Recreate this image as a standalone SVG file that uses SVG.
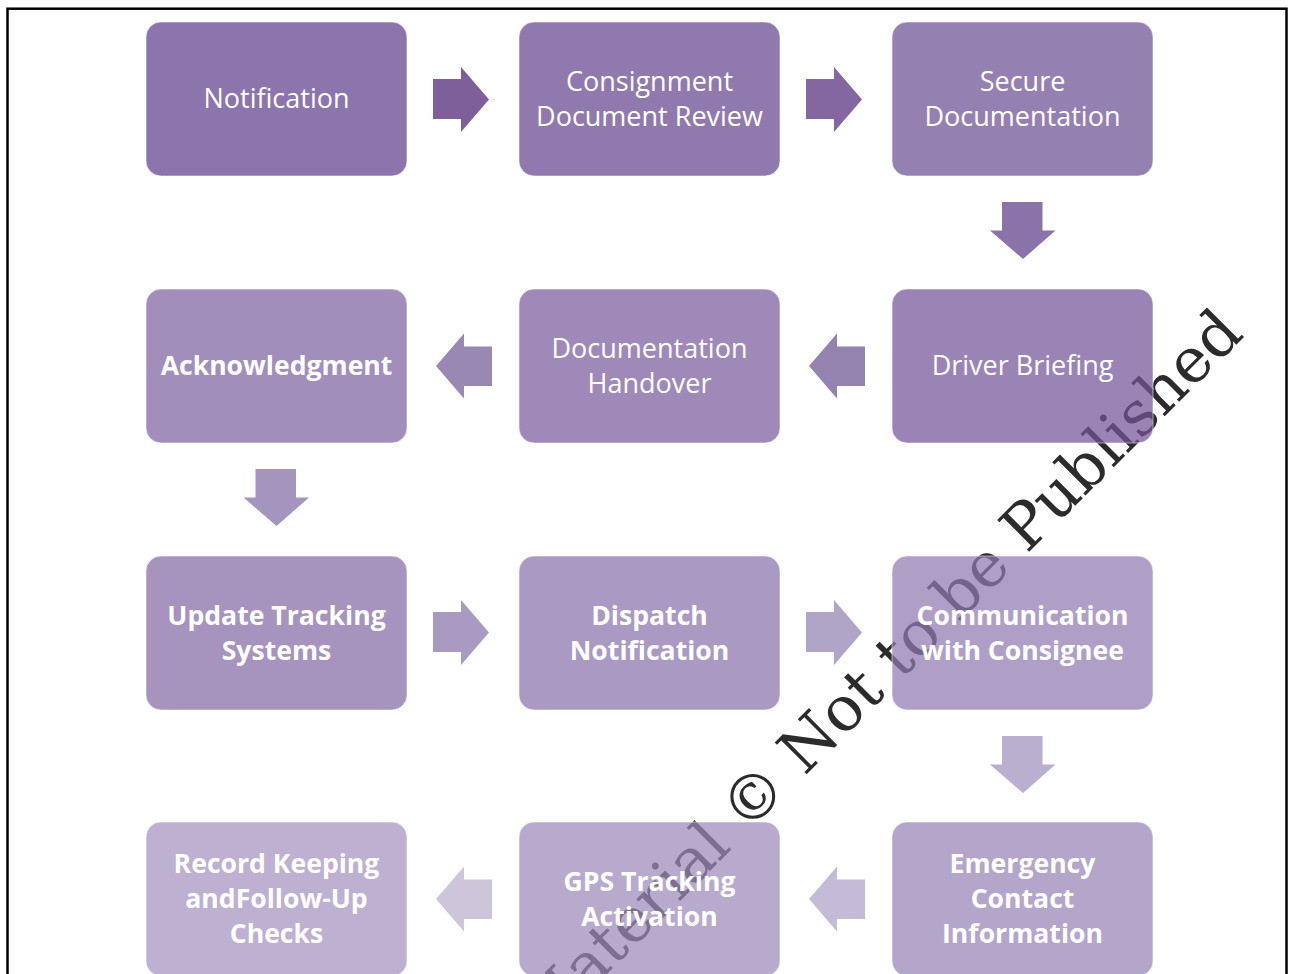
<svg xmlns="http://www.w3.org/2000/svg" width="1295" height="974" viewBox="0 0 1295 974">
  <style>
    .box { stroke: #ffffff; stroke-opacity: 0.55; stroke-width: 1; fill-opacity: 0.72; }
    .lbl { font-family: "Open Sans", "Noto Sans", sans-serif; font-size: 27px; fill: #ffffff; text-anchor: middle; }
    .b { font-weight: 700; font-size: 26.6px; }
    .mark { font-family: "DejaVu Serif", "Liberation Serif", serif; font-size: 62px; fill: #2b2b2b; }
  </style>
  <defs>
    <!-- arrow shapes, drawn at the origin and placed by translate -->
    <path id="arR" d="M0,12 H28 V0 L56,32.5 L28,65 V52 H0 Z"/>
    <path id="arL" d="M56,13 H28 V0 L0,32.5 L28,65 V52.5 H56 Z"/>
    <path id="arD" d="M12,0 H52.5 V28.5 H65.5 L33,57 L0,28.5 H12 Z"/>
  </defs>

  <rect x="0" y="0" width="1295" height="974" fill="#ffffff"/>
  <rect x="7.5" y="8.7" width="1279" height="1000" fill="none" stroke="#000000" stroke-width="2.5"/>

  <!-- watermark sits under the translucent boxes -->
  <text class="mark" transform="translate(543,1038) rotate(-45)">Material © Not to be Published</text>

  <g id="connectors">
    <use href="#arR" x="433" y="67" fill="#7e5f9a"/>
    <use href="#arR" x="806" y="67" fill="#8467a1"/>
    <use href="#arD" x="990" y="202" fill="#8a73a9"/>
    <use href="#arL" x="809" y="333.5" fill="#9482af"/>
    <use href="#arL" x="436" y="333.5" fill="#9988b4"/>
    <use href="#arD" x="243.5" y="469" fill="#a494be"/>
    <use href="#arR" x="433" y="600" fill="#a99ac2"/>
    <use href="#arR" x="806" y="600" fill="#b1a5c7"/>
    <use href="#arD" x="990" y="736" fill="#baafce"/>
    <use href="#arL" x="809" y="866.5" fill="#c4bbd6"/>
    <use href="#arL" x="436" y="866.5" fill="#cdc6da"/>
  </g>

  <g id="n1">
    <rect class="box" x="146" y="22" width="261" height="154" rx="15" fill="#5f3e8c"/>
    <text class="lbl" x="276.5" y="108">Notification</text>
  </g>
  <g id="n2">
    <rect class="box" x="519" y="22" width="261" height="154" rx="15" fill="#65458e"/>
    <text class="lbl" x="649.5" y="91">Consignment</text>
    <text class="lbl" x="649.5" y="126">Document Review</text>
  </g>
  <g id="n3">
    <rect class="box" x="892" y="22" width="261" height="154" rx="15" fill="#6c4f94"/>
    <text class="lbl" x="1022.5" y="91">Secure</text>
    <text class="lbl" x="1022.5" y="126">Documentation</text>
  </g>
  <g id="n4">
    <rect class="box" x="892" y="289" width="261" height="154" rx="15" fill="#735498"/>
    <text class="lbl" x="1022.5" y="375">Driver Briefing</text>
  </g>
  <g id="n5">
    <rect class="box" x="519" y="289" width="261" height="154" rx="15" fill="#785b9c"/>
    <text class="lbl" x="649.5" y="358">Documentation</text>
    <text class="lbl" x="649.5" y="393">Handover</text>
  </g>
  <g id="n6">
    <rect class="box" x="146" y="289" width="261" height="154" rx="15" fill="#7e62a0"/>
    <text class="lbl b" x="276.5" y="375">Acknowledgment</text>
  </g>
  <g id="n7">
    <rect class="box" x="146" y="556" width="261" height="154" rx="15" fill="#8369a5"/>
    <text class="lbl b" x="276.5" y="625">Update Tracking</text>
    <text class="lbl b" x="276.5" y="660">Systems</text>
  </g>
  <g id="n8">
    <rect class="box" x="519" y="556" width="261" height="154" rx="15" fill="#8971aa"/>
    <text class="lbl b" x="649.5" y="625">Dispatch</text>
    <text class="lbl b" x="649.5" y="660">Notification</text>
  </g>
  <g id="n9">
    <rect class="box" x="892" y="556" width="261" height="154" rx="15" fill="#907ab0"/>
    <text class="lbl b" x="1022.5" y="625">Communication</text>
    <text class="lbl b" x="1022.5" y="660">with Consignee</text>
  </g>
  <g id="n10">
    <rect class="box" x="892" y="822" width="261" height="154" rx="15" fill="#9782b5"/>
    <text class="lbl b" x="1022.5" y="872.5">Emergency</text>
    <text class="lbl b" x="1022.5" y="907.5">Contact</text>
    <text class="lbl b" x="1022.5" y="943">Information</text>
  </g>
  <g id="n11">
    <rect class="box" x="519" y="822" width="261" height="154" rx="15" fill="#9c89b9"/>
    <text class="lbl b" x="649.5" y="891">GPS Tracking</text>
    <text class="lbl b" x="649.5" y="926">Activation</text>
  </g>
  <g id="n12">
    <rect class="box" x="146" y="822" width="261" height="154" rx="15" fill="#a391bf"/>
    <text class="lbl b" x="276.5" y="872.5">Record Keeping</text>
    <text class="lbl b" x="276.5" y="907.5">andFollow-Up</text>
    <text class="lbl b" x="276.5" y="943">Checks</text>
  </g>
</svg>
